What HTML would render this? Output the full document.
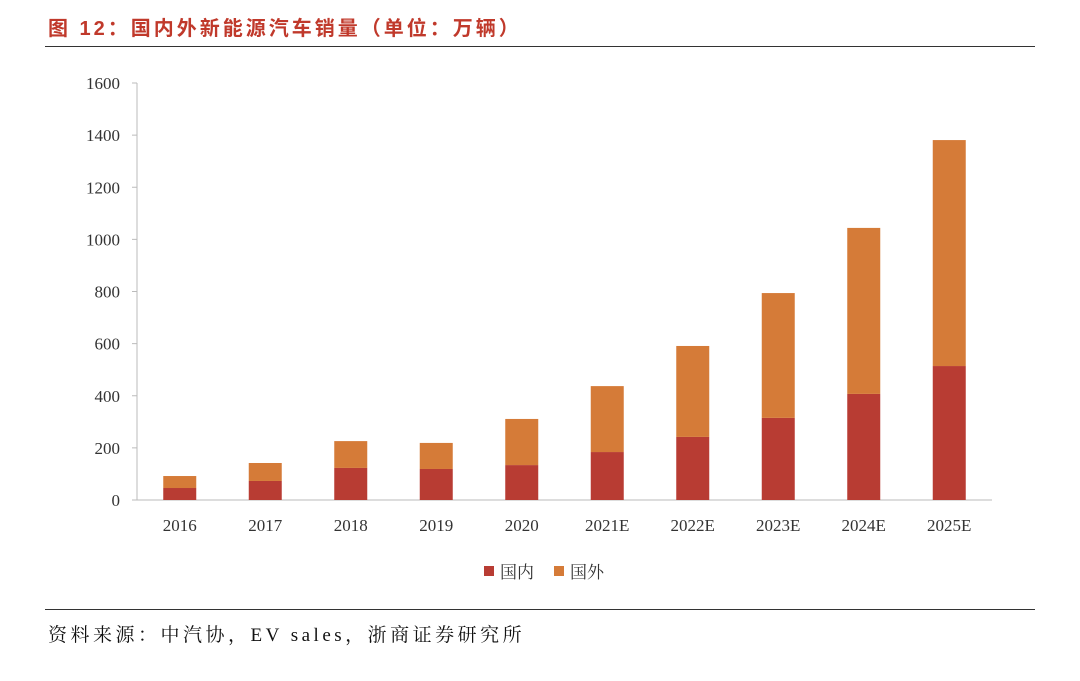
<!DOCTYPE html>
<html><head><meta charset="utf-8"><style>
body{margin:0;background:#fff;width:1080px;height:681px;overflow:hidden;font-family:"Liberation Serif","Noto Serif CJK SC",serif}
.title{position:absolute;left:48px;top:12px;font-size:20px;letter-spacing:3px;font-weight:bold;color:#C0392B;font-family:"Liberation Sans","Noto Sans CJK SC",sans-serif;white-space:nowrap}
.hr{position:absolute;left:45px;width:990px;height:1px;background:#333}
.src{position:absolute;left:48px;top:620px;font-size:19px;letter-spacing:3.5px;color:#111;font-family:"Liberation Serif","Noto Serif CJK SC",serif;white-space:nowrap}
</style></head><body>
<div class="title">图 12：国内外新能源汽车销量（单位：万辆）</div>
<div class="hr" style="top:46px"></div>
<svg id="chart" width="1080" height="681" style="position:absolute;left:0;top:0"></svg>
<div class="hr" style="top:609px"></div>
<div class="src">资料来源：中汽协，EV sales，浙商证券研究所</div>
<script>
const categories=["2016","2017","2018","2019","2020","2021E","2022E","2023E","2024E","2025E"];
const domestic=[46,73,123,119,134,184,242,315,407,514];
const overseas=[46,69,103,100,177,253,349,479,637,867];
const yTicks=[0,200,400,600,800,1000,1200,1400,1600];
const svg=document.getElementById('chart');const NS='http://www.w3.org/2000/svg';
const x0=137,x1=992,y0=500,yTop=83,yMax=1600;
const y=v=>y0-(v/yMax)*(y0-yTop);
const step=(x1-x0)/categories.length;
const xc=i=>x0+step*(i+0.5);
function mk(t,a){const e=document.createElementNS(NS,t);for(const k in a)e.setAttribute(k,a[k]);svg.appendChild(e);return e;}
let ax=mk('line',{x1:x0,y1:yTop,x2:x0,y2:y0,stroke:'#bbb'});


let bx=mk('line',{x1:x0,y1:y0,x2:x1,y2:y0,stroke:'#bbb'});


yTicks.forEach(v=>{
 let t=mk('text',{x:x0-17,y:y(v)+6,'text-anchor':'end','font-size':17,fill:'#333'});t.textContent=v;
 
 
 mk('line',{x1:x0-5,y1:y(v),x2:x0,y2:y(v),stroke:'#bbb'});
});
const bw=33;
categories.forEach((c,i)=>{
 let r1=mk('rect',{x:xc(i)-bw/2,y:y(domestic[i]),width:bw,height:y0-y(domestic[i]),fill:'#B83C33'});
 
 
 let tot=domestic[i]+overseas[i];
 let r2=mk('rect',{x:xc(i)-bw/2,y:y(tot),width:bw,height:y(domestic[i])-y(tot),fill:'#D57B38'});
 
 
 let t=mk('text',{x:xc(i),y:531,'text-anchor':'middle','font-size':17,fill:'#333'});t.textContent=c;
 
 
});
const legend=[["国内","#B83C33",484],["国外","#D57B38",554]];
legend.forEach(l=>{
 let r=mk('rect',{x:l[2],y:566,width:10,height:10,fill:l[1]});
 
 
 let t=mk('text',{x:l[2]+16,y:578,'font-size':17,fill:'#333','font-family':'"Noto Serif CJK SC",serif'});t.textContent=l[0];
 
 
});
</script>
</body></html>
